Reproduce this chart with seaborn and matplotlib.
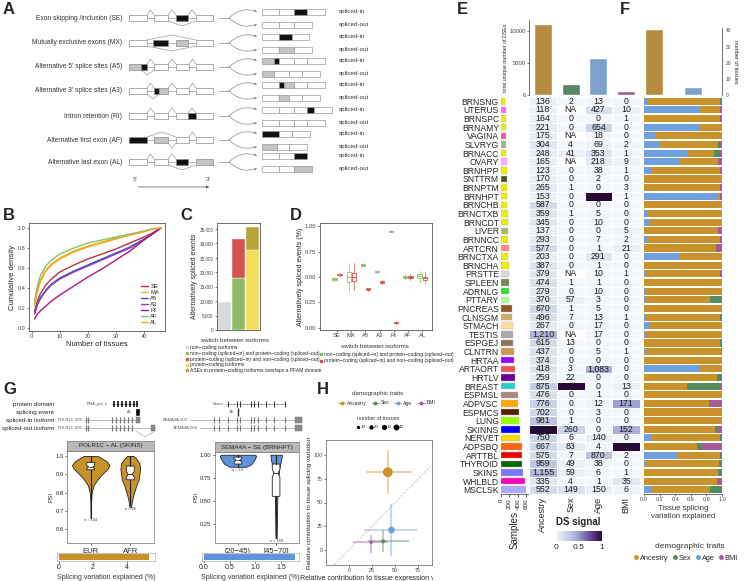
import numpy as np
import pandas as pd
import matplotlib
matplotlib.use('Agg')
import matplotlib.pyplot as plt
import seaborn as sns
from matplotlib.patches import Rectangle
from matplotlib.colors import LinearSegmentedColormap
from matplotlib.lines import Line2D
from matplotlib.transforms import Bbox, TransformedBbox

# ---------------- data ----------------
# panel A: splicing event schematics (pixel layout of the panel)
events = ['Exon skipping /inclusion (SE)', 'Mutually exclusive exons (MX)',
          "Alternative 5' splice sites (A5)", "Alternative 3' splice sites (A3)",
          'Intron retention (RI)', 'Alternative first exon (AF)', 'Alternative last exon (AL)']
event_y = [18, 43, 67, 91, 116, 140, 162]
pre_exons = [
    [(129, 147, 'w'), (154, 168, 'w'), (176, 188, 'k'), (196, 213, 'w')],
    [(129, 147, 'w'), (153, 168, 'k'), (176, 188, 'g'), (196, 213, 'w')],
    [(129, 141, 'g'), (141, 147, 'k'), (154, 168, 'w'), (176, 189, 'w'), (196, 213, 'w')],
    [(129, 147, 'w'), (154, 159, 'k'), (159, 168, 'g'), (176, 189, 'w'), (196, 213, 'w')],
    [(129, 147, 'w'), (154, 168, 'w'), (176, 188, 'w'), (188, 196, 'k'), (196, 213, 'w')],
    [(129, 147, 'k'), (154, 168, 'g'), (176, 189, 'w'), (196, 213, 'w')],
    [(129, 147, 'w'), (154, 168, 'w'), (176, 188, 'k'), (196, 213, 'g')],
]
up_links = [[(147, 154), (168, 176), (188, 196)], [(147, 196)],
            [(147, 154), (168, 176), (189, 196)], [(147, 154), (168, 176), (189, 196)],
            [(147, 154), (168, 176), (188, 196)], [(147, 176), (189, 196)],
            [(147, 154), (168, 176)]]
down_links = [[(168, 196)], [(147, 196)], [(141, 154)], [(147, 159)], [], [(168, 176)], [(168, 196)]]
tx_in = [([17, 15, 13, 18], 'wwkw'), ([17, 13, 17], 'wkw'), ([12, 5, 15, 13, 18], 'gkwww'),
         ([17, 5, 10, 13, 18], 'wkgww'), ([17, 15, 13, 7, 18], 'wwwkw'), ([17, 13, 18], 'kww'),
         ([17, 15, 13], 'wwk')]
tx_out = [([17, 15, 18], 'www'), ([17, 15, 18], 'wgw'), ([12, 15, 13, 18], 'gwww'),
          ([17, 10, 13, 18], 'wgww'), ([17, 15, 13, 18], 'wwww'), ([15, 12, 18], 'gww'),
          ([17, 15, 18], 'wwg')]

# panel B: cumulative density of events vs number of tissues
n_tissues = [1, 2, 3, 5, 7, 10, 15, 20, 25, 30, 35, 40, 43, 46]
cum_SE = [0.17, 0.27, 0.34, 0.43, 0.49, 0.56, 0.63, 0.69, 0.74, 0.79, 0.85, 0.91, 0.95, 1.0]
cum_MX = [0.24, 0.38, 0.48, 0.58, 0.64, 0.70, 0.77, 0.82, 0.86, 0.90, 0.93, 0.97, 0.99, 1.0]
cum_A5 = [0.15, 0.24, 0.30, 0.38, 0.44, 0.50, 0.57, 0.63, 0.69, 0.75, 0.81, 0.89, 0.94, 1.0]
cum_A3 = [0.14, 0.23, 0.29, 0.37, 0.43, 0.49, 0.56, 0.62, 0.68, 0.74, 0.80, 0.88, 0.94, 1.0]
cum_RI = [0.09, 0.14, 0.17, 0.22, 0.27, 0.33, 0.42, 0.51, 0.59, 0.68, 0.77, 0.88, 0.94, 1.0]
cum_AF = [0.27, 0.42, 0.52, 0.62, 0.68, 0.74, 0.80, 0.85, 0.88, 0.91, 0.94, 0.97, 0.99, 1.0]
cum_AL = [0.22, 0.36, 0.46, 0.57, 0.63, 0.69, 0.76, 0.81, 0.85, 0.89, 0.93, 0.96, 0.99, 1.0]
event_codes = ['SE', 'MX', 'A5', 'A3', 'RI', 'AF', 'AL']
event_colors = ['#b8323a', '#e8b90c', '#3c4fb5', '#8a3fc4', '#b3177f', '#88c06a', '#f0a52e']

# panel C: stacked bars
c_bottom = [9800, 18000, 27800]
c_top = [0, 13500, 7900]
c_bottom_col = ['#d9d9d9', '#8fbd67', '#f1dc5c']
c_top_col = ['#d9d9d9', '#d6524e', '#b7a43b']
c_labels = ['non\u2212coding isoforms',
            'non\u2212coding (spliced\u2212in) and protein\u2212coding (spliced\u2212out)',
            'protein\u2212coding (spliced\u2212in) and non\u2212coding (spliced\u2212out)',
            'protein\u2212coding isoforms',
            'ASEs in protein\u2212coding isoforms overlaps a PFAM domain']
c_leg_col = ['#d9d9d9', '#8fbd67', '#d6524e', '#f1dc5c', '#b7a43b']

# panel D: box summaries (median, q1, q3, low, high) per event
d_green = [(0.48, 0.475, 0.486, 0.46, 0.50), (0.50, 0.45, 0.55, 0.35, 0.64),
           (0.62, 0.612, 0.626, 0.60, 0.635), (0.55, 0.545, 0.558, 0.53, 0.57),
           (0.95, 0.946, 0.955, 0.94, 0.96), (0.50, 0.49, 0.51, 0.47, 0.53),
           (0.51, 0.495, 0.525, 0.45, 0.56)]
d_red = [(0.52, 0.515, 0.526, 0.51, 0.535), (0.50, 0.46, 0.54, 0.37, 0.64),
         (0.38, 0.374, 0.388, 0.365, 0.395), (0.45, 0.442, 0.456, 0.43, 0.47),
         (0.05, 0.045, 0.056, 0.035, 0.065), (0.50, 0.49, 0.51, 0.47, 0.53),
         (0.49, 0.475, 0.505, 0.44, 0.55)]

# panel E / F
tissues = ['BRNSNG', 'UTERUS', 'BRNSPC', 'BRNAMY', 'VAGINA', 'SLVRYG', 'BRNACC', 'OVARY',
           'BRNHPP', 'SNTTRM', 'BRNPTM', 'BRNHPT', 'BRNCHB', 'BRNCTXB', 'BRNCDT', 'LIVER',
           'BRNNCC', 'ARTCRN', 'BRNCTXA', 'BRNCHA', 'PRSTTE', 'SPLEEN', 'ADRNLG', 'PTTARY',
           'PNCREAS', 'CLNSGM', 'STMACH', 'TESTIS', 'ESPGEJ', 'CLNTRN', 'HRTAA', 'ARTAORT',
           'HRTLV', 'BREAST', 'ESPMSL', 'ADPVSC', 'ESPMCS', 'LUNG', 'SKINNS', 'NERVET',
           'ADPSBQ', 'ARTTBL', 'THYROID', 'SKINS', 'WHLBLD', 'MSCLSK']
tissue_colors = ['#eeee00', '#ff66ff', '#eeee00', '#eeee00', '#ff5599', '#99bb88', '#eeee00', '#ffaaff',
                 '#eeee00', '#555522', '#eeee00', '#eeee00', '#eeee00', '#eeee00', '#eeee00', '#aabb66',
                 '#eeee00', '#ff8877', '#eeee00', '#eeee00', '#d9d9d9', '#778855', '#33dd33', '#aaff99',
                 '#995522', '#cdaa66', '#ffdd99', '#aaaaaa', '#8b7355', '#cc9955', '#9900ff', '#ee5555',
                 '#660099', '#33cccc', '#aa8877', '#ffaa00', '#552200', '#99ff00', '#0000ff', '#ffd700',
                 '#ff6600', '#ee0000', '#006600', '#7777ff', '#ff00bb', '#aaaaff']
samples = [100, 110, 108, 110, 120, 122, 125, 142, 140, 148, 145, 145, 149, 174, 165, 177,
           172, 181, 174, 178, 188, 193, 198, 201, 259, 270, 275, 274, 280, 313, 316, 329,
           328, 337, 395, 399, 422, 438, 439, 452, 494, 496, 488, 514, 570, 600]
dse_ancestry = [136, 118, 164, 221, 175, 304, 248, 165, 123, 170, 265, 153, 587, 359, 345, 137,
                293, 577, 203, 387, 379, 474, 279, 370, 670, 496, 267, 1210, 615, 437, 374, 418,
                259, 875, 476, 776, 702, 981, 3167, 750, 667, 575, 959, 1155, 335, 552]
dse_sex = [2, np.nan, 0, 0, np.nan, 4, 41, np.nan, 0, 0, 1, 0, 0, 1, 0, 0,
           0, 0, 0, 0, np.nan, 1, 0, 57, 1, 7, 0, np.nan, 13, 0, 0, 3,
           22, 1124, 0, 0, 0, 1, 260, 6, 83, 7, 49, 59, 4, 149]
dse_age = [13, 427, 0, 654, 18, 69, 353, 218, 38, 2, 0, 2730, 0, 5, 10, 0,
           7, 1, 291, 1, 10, 1, 10, 3, 5, 13, 17, 17, 0, 5, 0, 1083,
           0, 0, 1, 12, 3, 0, 0, 140, 4, 870, 38, 6, 1, 150]
dse_bmi = [0, 10, 1, 0, 0, 2, 1, 9, 1, 0, 3, 1, 0, 0, 0, 5,
           2, 21, 0, 0, 1, 0, 0, 0, 0, 1, 0, 0, 0, 1, 0, 0,
           0, 13, 0, 171, 0, 0, 152, 0, 364, 2, 0, 1, 35, 6]
traits = ['Ancestry', 'Sex', 'Age', 'BMI']
trait_colors = {'Ancestry': '#c9922a', 'Sex': '#4f8f5f', 'Age': '#6fa0dc', 'BMI': '#a65a98'}
total_dse = [11100, 1800, 5900, 700]
n_tissue_trait = [41, 0, 5, 0]

# panel F: fraction of splicing variation explained, per tissue
f_age = [0.05, 0.70, 0.00, 0.72, 0.15, 0.20, 0.55, 0.45, 0.10, 0.00, 0.00, 0.95, 0.00, 0.05, 0.08, 0.00,
         0.05, 0.00, 0.45, 0.00, 0.03, 0.00, 0.03, 0.02, 0.00, 0.03, 0.06, 0.02, 0.00, 0.01, 0.00, 0.72,
         0.00, 0.00, 0.00, 0.00, 0.00, 0.00, 0.00, 0.10, 0.00, 0.44, 0.02, 0.00, 0.00, 0.10]
f_anc = [0.93, 0.28, 0.98, 0.28, 0.85, 0.75, 0.35, 0.50, 0.88, 1.00, 0.97, 0.03, 1.00, 0.95, 0.92, 0.95,
         0.93, 0.92, 0.55, 1.00, 0.95, 1.00, 0.97, 0.83, 1.00, 0.95, 0.94, 0.98, 0.98, 0.98, 1.00, 0.28,
         0.93, 0.55, 1.00, 0.83, 1.00, 1.00, 0.91, 0.88, 0.68, 0.54, 0.94, 0.95, 0.93, 0.74]
f_sex = [0.02, 0.00, 0.00, 0.00, 0.00, 0.03, 0.08, 0.00, 0.00, 0.00, 0.00, 0.00, 0.00, 0.00, 0.00, 0.00,
         0.00, 0.00, 0.00, 0.00, 0.00, 0.00, 0.00, 0.15, 0.00, 0.01, 0.00, 0.00, 0.02, 0.00, 0.00, 0.00,
         0.07, 0.43, 0.00, 0.00, 0.00, 0.00, 0.04, 0.02, 0.06, 0.02, 0.04, 0.05, 0.00, 0.15]
f_bmi = [0.00, 0.02, 0.02, 0.00, 0.00, 0.02, 0.02, 0.05, 0.02, 0.00, 0.03, 0.02, 0.00, 0.00, 0.00, 0.05,
         0.02, 0.08, 0.00, 0.00, 0.02, 0.00, 0.00, 0.00, 0.00, 0.01, 0.00, 0.00, 0.00, 0.01, 0.00, 0.00,
         0.00, 0.02, 0.00, 0.17, 0.00, 0.00, 0.05, 0.00, 0.26, 0.00, 0.00, 0.00, 0.07, 0.01]

# panel G: violin outlines (psi, relative density)
eur_psi = [0.66, 0.75, 0.80, 0.84, 0.87, 0.90, 0.93, 0.95, 0.97, 0.99, 1.0]
eur_dens = [0.01, 0.02, 0.05, 0.15, 0.35, 0.60, 0.90, 1.00, 0.85, 0.55, 0.35]
afr_psi = [0.72, 0.76, 0.80, 0.84, 0.87, 0.90, 0.93, 0.96, 0.99, 1.0]
afr_dens = [0.05, 0.12, 0.25, 0.40, 0.55, 0.60, 0.65, 0.60, 0.35, 0.20]
young_psi = [0.87, 0.90, 0.93, 0.96, 0.99, 1.0]
young_dens = [0.45, 0.75, 0.85, 0.95, 1.00, 0.90]
old_psi = [0.10, 0.30, 0.50, 0.70, 0.85, 0.95, 1.0]
old_dens = [0.10, 0.15, 0.20, 0.30, 0.55, 0.90, 1.00]
polr_box = [(0.94, 0.925, 0.965, 0.67, 1.0, 0.932, 0.948), (0.90, 0.87, 0.945, 0.73, 1.0, 0.885, 0.915)]
sema_box = [(0.94, 0.90, 0.975, 0.87, 1.0, 0.92, 0.955), (0.80, 0.55, 0.90, 0.10, 1.0, 0.76, 0.84)]
polr_expl, sema_expl = 5.3, 1.77

# panel H: relative contributions (x expr, y splicing) with ranges
h_traits = ['Ancestry', 'Sex', 'Age', 'BMI']
h_x = [42, 37, 46, 24]
h_y = [82, 9, 21, 8]
h_xlo = [18, 21, 16, 4]
h_xhi = [68, 65, 74, 42]
h_ylo = [59, -2, -6, -3]
h_yhi = [105, 21, 48, 16]
h_ntis = [41, 8, 20, 6]

# ---------------- figure ----------------
sns.set_style('ticks')
plt.rcParams['font.family'] = ['Liberation Sans', 'DejaVu Sans']
plt.rcParams['axes.edgecolor'] = '#555555'
plt.rcParams['axes.linewidth'] = 0.6

W, H = 748, 581
fig = plt.figure(figsize=(W / 100, H / 100), dpi=100)


def px_axes(x0, y0, x1, y1):
    return fig.add_axes([x0 / W, 1 - y1 / H, (x1 - x0) / W, (y1 - y0) / H])


def panel_label(x, y, s):
    fig.text(x / W, 1 - y / H, s, fontsize=12, fontweight='bold', va='center', ha='left')


def small_ticks(ax, size=4):
    ax.tick_params(labelsize=size, length=1.5, width=0.5, pad=1, colors='#444444')


fillc = {'w': 'white', 'k': '#111111', 'g': '#c4c4c4'}

# ---- A
axA = px_axes(0, 0, 430, 200)
axA.set_xlim(0, 430)
axA.set_ylim(200, 0)
axA.axis('off')
for i, ev in enumerate(events):
    y = event_y[i]
    axA.text(122, y, ev, ha='right', va='center', fontsize=4.8, color='#333333')
    axA.plot([129, 213], [y, y], color='#9a9a9a', lw=0.5, zorder=1)
    for xa, xb in up_links[i]:
        axA.plot([xa, (xa + xb) / 2, xb], [y - 3, y - 8, y - 3], color='#9a9a9a', lw=0.5)
    for xa, xb in down_links[i]:
        axA.plot([xa, (xa + xb) / 2, xb], [y + 3, y + 8, y + 3], color='#9a9a9a', lw=0.5)
    for x0, x1, c in pre_exons[i]:
        axA.add_patch(Rectangle((x0, y - 3), x1 - x0, 6, fc=fillc[c], ec='#8c8c8c', lw=0.5, zorder=2))
    axA.plot([219, 229], [y, y], color='#888888', lw=0.5)
    for dy, tr, lab in [(-6.5, tx_in[i], 'spliced-in'), (6.5, tx_out[i], 'spliced-out')]:
        axA.annotate('', xy=(257, y + dy), xytext=(229, y),
                     arrowprops=dict(arrowstyle='-|>', color='#888888', lw=0.5, mutation_scale=3,
                                     shrinkA=0, shrinkB=0,
                                     connectionstyle='arc3,rad=%.2f' % (0.3 if dy > 0 else -0.3)))
        x = 262
        for w, c in zip(tr[0], tr[1]):
            axA.add_patch(Rectangle((x, y + dy - 3), w, 6, fc=fillc[c], ec='#9a9a9a', lw=0.5))
            x += w
        axA.text(339, y + dy, lab, fontsize=4.5, va='center', color='#333333')
axA.annotate('', xy=(212, 187), xytext=(135, 187),
             arrowprops=dict(arrowstyle='-|>', color='#555555', lw=0.5, mutation_scale=4))
axA.text(133, 181, "5'", fontsize=4.5, color='#444444')
axA.text(206, 181, "3'", fontsize=4.5, color='#444444')
panel_label(3, 9, 'A')

# ---- B
axB = px_axes(29, 223, 165, 331)
cum_df = pd.DataFrame({
    'n': n_tissues * 7,
    'cum': cum_SE + cum_MX + cum_A5 + cum_A3 + cum_RI + cum_AF + cum_AL,
    'event': [e for e in event_codes for _ in n_tissues]})
sns.lineplot(data=cum_df, x='n', y='cum', hue='event', palette=dict(zip(event_codes, event_colors)),
             lw=1, ax=axB)
axB.set_xlim(-1, 47.5)
axB.set_ylim(-0.03, 1.05)
axB.set_xticks([0, 10, 20, 30, 40])
axB.set_yticks([0, 0.2, 0.4, 0.6, 0.8, 1.0])
axB.set_xlabel('Number of tissues', fontsize=5.5, labelpad=1)
axB.set_ylabel('Cumulative density', fontsize=5.5, labelpad=1)
small_ticks(axB)
axB.legend(loc='lower right', frameon=False, fontsize=4.2, handlelength=1.2, labelspacing=0.15,
           borderaxespad=0.6, handletextpad=0.5)
panel_label(3, 215, 'B')

# ---- C
axC = px_axes(217, 223, 260, 330)
xs = [0, 1, 2]
axC.bar(xs, c_bottom, width=0.92, color=c_bottom_col, edgecolor='white', lw=0.3)
axC.bar(xs, c_top, bottom=c_bottom, width=0.92, color=c_top_col, edgecolor='white', lw=0.3)
axC.set_xlim(-0.55, 2.55)
axC.set_ylim(0, 37100)
axC.set_yticks(range(0, 35001, 5000))
axC.set_yticklabels(['{:,}'.format(v) for v in range(0, 35001, 5000)])
axC.set_xticks([])
axC.set_ylabel('Alternatively spliced events', fontsize=5, labelpad=1)
small_ticks(axC, 3.3)
fig.text(235 / W, 1 - 340 / H, 'switch between isoforms', fontsize=4.5, ha='center', va='center',
         color='#333333')
c_handles = [Line2D([], [], ls='', marker='s', ms=1.8, color=c) for c in c_leg_col]
fig.legend(c_handles, c_labels, loc='upper left', bbox_to_anchor=(183 / W, 1 - 343 / H), frameon=False,
           fontsize=3.6, handlelength=0.6, handletextpad=0.3, labelspacing=0.15, borderaxespad=0)
panel_label(180, 215, 'C')

# ---- D
axD = px_axes(320, 223, 432, 330)


def box_stats(vals):
    return [dict(med=m, q1=a, q3=b, whislo=lo, whishi=hi, fliers=[]) for m, a, b, lo, hi in vals]


for vals, off, col in [(d_green, -0.18, '#8fbd67'), (d_red, 0.18, '#d6524e')]:
    axD.bxp(box_stats(vals), positions=np.arange(7) + off, widths=0.3, showfliers=False,
            patch_artist=True,
            boxprops=dict(facecolor='white', edgecolor=col, lw=0.6),
            medianprops=dict(color=col, lw=0.8), whiskerprops=dict(color=col, lw=0.5),
            capprops=dict(color=col, lw=0), manage_ticks=False)
axD.set_xlim(-1.2, 6.7)
axD.set_ylim(-0.02, 1.03)
axD.set_xticks(range(7))
axD.set_xticklabels(event_codes)
axD.set_yticks([0, 0.25, 0.5, 0.75, 1.0])
axD.set_yticklabels(['0.00', '0.25', '0.50', '0.75', '1.00'])
axD.set_ylabel('Alternatively spliced events (%)', fontsize=5, labelpad=1)
small_ticks(axD, 4.2)
fig.text(375 / W, 1 - 346 / H, 'switch between isoforms', fontsize=4.5, ha='center', va='center',
         color='#333333')
d_handles = [Line2D([], [], ls='', marker='s', ms=1.8, color=c) for c in ['#8fbd67', '#d6524e']]
fig.legend(d_handles, c_labels[1:3], loc='upper left', bbox_to_anchor=(317 / W, 1 - 350 / H),
           frameon=False, fontsize=3.6, handlelength=0.6, handletextpad=0.3, labelspacing=0.25,
           borderaxespad=0)
panel_label(290, 215, 'D')

# ---- E
nrow = len(tissues)
dse = pd.DataFrame({'Ancestry': dse_ancestry, 'Sex': dse_sex, 'Age': dse_age, 'BMI': dse_bmi},
                   index=tissues)
ds_signal = dse / dse.max()
annot = dse.apply(lambda col: col.map(lambda v: '' if pd.isna(v) else '{:,}'.format(int(v))))
ds_cmap = LinearSegmentedColormap.from_list('ds', ['#f3f6fa', '#c7d2e6', '#9a9ccd', '#64459a', '#2b063d'])

axHm = px_axes(529, 97, 640, 494)
axCb = px_axes(556, 531, 602, 541)
sns.heatmap(ds_signal, ax=axHm, cmap=ds_cmap, vmin=0, vmax=1, annot=annot.values, fmt='',
            annot_kws=dict(fontsize=6.3, color='#1a1a1a'), linewidths=0.6, linecolor='white',
            cbar_ax=axCb, cbar_kws=dict(orientation='horizontal', ticks=[0, 0.5, 1]),
            yticklabels=False)
for r in range(nrow):
    for c, t in enumerate(traits):
        if pd.isna(dse.iloc[r, c]):
            axHm.text(c + 0.5, r + 0.5, 'NA', ha='center', va='center', fontsize=6.3, color='#1a1a1a')
axHm.set_xticklabels(traits, rotation=90, fontsize=6.5)
axHm.tick_params(axis='x', length=0, pad=2)
axHm.set_xlabel('')
axCb.tick_params(labelsize=6, length=0, pad=2)
axCb.set_xticklabels(['0', '0.5', '1'])
for s in axCb.spines.values():
    s.set_visible(False)
fig.text(556 / W, 1 - 522 / H, 'DS signal', fontsize=7, fontweight='bold', va='center')

axS = px_axes(501, 97, 528, 494)
axS.barh(np.arange(nrow) + 0.5, samples, height=0.75, color=tissue_colors, edgecolor='#bbbbbb', lw=0.3)
axS.set_ylim(nrow, 0)
axS.set_xlim(0, 640)
axS.set_yticks(np.arange(nrow) + 0.5)
axS.set_yticklabels(tissues, fontsize=6.2)
axS.tick_params(axis='y', length=0, pad=1.5)
axS.set_xticks([0, 200, 400, 600])
axS.tick_params(axis='x', labelsize=4.5, rotation=90, length=2, width=0.5, pad=1)
axS.set_xlabel('Samples', fontsize=7, rotation=90, labelpad=2)
sns.despine(ax=axS, left=True)

axEt = px_axes(529, 20, 640, 95)
sns.barplot(x=traits, y=total_dse, hue=traits, palette=trait_colors, legend=False, width=0.65, ax=axEt)
axEt.set_xlim(-0.5, 3.5)
axEt.set_ylim(0, 11800)
axEt.set_yticks([0, 5000, 10000])
axEt.set_xticks([])
axEt.set_ylabel('total unique number of DSEs', fontsize=3.8, labelpad=1)
small_ticks(axEt, 4.2)
sns.despine(ax=axEt, bottom=True)
panel_label(457, 10, 'E')

# ---- F
axFt = px_axes(644, 28, 722, 95)
sns.barplot(x=traits, y=n_tissue_trait, hue=traits, palette=trait_colors, legend=False, width=0.9, ax=axFt)
axFt.set_xlim(-0.5, 3.5)
axFt.set_ylim(0, 41.5)
axFt.set_yticks([0, 10, 20, 30, 40])
axFt.set_xticks([])
axFt.yaxis.tick_right()
axFt.yaxis.set_label_position('right')
axFt.set_ylabel('number of tissues', fontsize=4, rotation=270, labelpad=5)
small_ticks(axFt, 3.5)
sns.despine(ax=axFt, left=True, bottom=True, right=False)

axF = px_axes(644, 97, 722, 494)
left = np.zeros(nrow)
for t, frac in [('Age', f_age), ('Ancestry', f_anc), ('Sex', f_sex), ('BMI', f_bmi)]:
    axF.barh(np.arange(nrow) + 0.5, frac, left=left, height=0.82, color=trait_colors[t], lw=0)
    left = left + np.array(frac)
axF.set_ylim(nrow, 0)
axF.set_xlim(0, 1.0)
axF.set_yticks([])
axF.set_xticks([0, 0.2, 0.4, 0.6, 0.8, 1.0])
axF.set_xticklabels(['0.0', '0.2', '0.4', '0.6', '0.8', '1.0'])
small_ticks(axF, 4)
axF.set_xlabel('Tissue splicing\nvariation explained', fontsize=5.5, labelpad=2, color='#333333')
sns.despine(ax=axF, left=True)
fig.text(690 / W, 1 - 546 / H, 'demographic traits', fontsize=6, ha='center', va='center', color='#333333')
f_handles = [Line2D([], [], ls='', marker='o', ms=2.5, color=trait_colors[t]) for t in traits]
fig.legend(f_handles, traits, loc='center', bbox_to_anchor=(686 / W, 1 - 558 / H), ncol=4, frameon=False,
           fontsize=5.3, handlelength=0.6, handletextpad=0.2, columnspacing=0.6, borderaxespad=0)
panel_label(620, 10, 'F')

# ---- G gene tracks
axGt = px_axes(0, 396, 320, 440)
axGt.set_xlim(0, 320)
axGt.set_ylim(440, 396)
axGt.axis('off')
for txt, yy in [('protein domain', 404), ('splicing event', 412), ('spliced-in isoform', 420),
                ('spliced-out isoform', 428)]:
    axGt.text(54, yy, txt, ha='right', va='center', fontsize=4.5, color='#222222')
polr_domain = [114, 118, 122, 126, 130, 134, 137]
polr_exons = [86, 88, 112, 116, 120, 124, 128, 132]
sema_domain = [228, 237, 240, 251, 254, 258, 266, 274, 285]
sema_exons = [214, 219, 228, 237, 240, 251, 254, 258, 266, 274, 285]
axGt.plot([112, 138], [404, 404], color='#555555', lw=0.4)
axGt.vlines(polr_domain, 401, 407, color='black', lw=1.1)
axGt.text(108, 404, 'RNA_pol_L', ha='right', va='center', fontsize=3, color='#555555')
axGt.text(132, 412, 'AL', ha='right', va='center', fontsize=3, color='#555555')
axGt.add_patch(Rectangle((135, 408), 5, 8, fc='black'))
for yy, end, lab in [(420, 140, 'POLR1C-008'), (428, 155, 'POLR1C-006')]:
    axGt.plot([84, end], [yy, yy], color='#888888', lw=0.4)
    axGt.vlines(polr_exons, yy - 3, yy + 3, color='#777777', lw=0.9)
    axGt.add_patch(Rectangle((end - 4, yy - 3), 4, 6, fc='#8a8a8a', ec='#666666', lw=0.3))
    axGt.text(82, yy, lab, ha='right', va='center', fontsize=3, color='#555555')
axGt.plot([136, 145, 155], [431, 437, 431], color='#999999', lw=0.4)
axGt.plot([226, 286], [404, 404], color='#555555', lw=0.4)
axGt.vlines(sema_domain, 401, 407, color='#333333', lw=0.7)
axGt.text(223, 404, 'Sema', ha='right', va='center', fontsize=3, color='#555555')
axGt.text(234, 412, 'SE', ha='right', va='center', fontsize=3, color='#555555')
axGt.vlines([237.5], 408, 416, color='#333333', lw=1)
for yy, start, lab in [(420, 190, 'SEMA4A-002'), (428, 200, 'SEMA4A-004')]:
    axGt.plot([start, 302], [yy, yy], color='#888888', lw=0.4)
    axGt.vlines(sema_exons, yy - 3, yy + 3, color='#777777', lw=0.8)
    axGt.add_patch(Rectangle((295, yy - 3), 7, 6, fc='#8a8a8a', ec='#666666', lw=0.3))
    axGt.text(start - 2, yy, lab, ha='right', va='center', fontsize=3, color='#555555')
panel_label(3, 389, 'G')


def violin_panel(box, hdr, psis, dens, widths, boxes, color, labels, ylim, yticks, ns):
    ax = px_axes(*box)
    stats = [dict(coords=np.array(p), vals=np.array(d), mean=np.median(p), median=np.median(p),
                  min=min(p), max=max(p)) for p, d in zip(psis, dens)]
    parts = ax.violin(stats, positions=[0, 1], widths=widths, showextrema=False)
    for b in parts['bodies']:
        b.set_facecolor(color)
        b.set_edgecolor('#222222')
        b.set_linewidth(0.6)
        b.set_alpha(1)
    bstats = [dict(med=m, q1=a, q3=b, whislo=lo, whishi=hi, cilo=cl, cihi=ch, fliers=[])
              for m, a, b, lo, hi, cl, ch in boxes]
    ax.bxp(bstats, positions=[0, 1], widths=0.2, shownotches=True, showfliers=False, patch_artist=True,
           boxprops=dict(facecolor='white', edgecolor='#222222', lw=0.6),
           medianprops=dict(color='#222222', lw=0.6), whiskerprops=dict(color='#222222', lw=0.8),
           capprops=dict(lw=0), manage_ticks=False)
    for i, n in enumerate(ns):
        ax.text(i, boxes[i][3] - 0.015 * (ylim[1] - ylim[0]), n, fontsize=2.8, ha='center',
                va='top', color='#444444')
    ax.set_xlim(-0.6, 1.6)
    ax.set_ylim(*ylim)
    ax.set_yticks(yticks)
    ax.set_yticklabels(['%.2f' % v if ylim[0] < 0.3 else '%.1f' % v for v in yticks])
    ax.set_xticks([0, 1])
    ax.set_xticklabels(labels)
    ax.set_ylabel('PSI', fontsize=4.5, labelpad=1)
    ax.tick_params(axis='y', labelsize=4.2, length=1.5, width=0.5, pad=1)
    ax.tick_params(axis='x', labelsize=5.5, length=1.5, width=0.5, pad=2)
    for s in ax.spines.values():
        s.set_color('#888888')
    hx = px_axes(box[0], box[1] - 10, box[2], box[1])
    hx.set_facecolor('#b9b9b9')
    hx.set_xticks([])
    hx.set_yticks([])
    for s in hx.spines.values():
        s.set_color('#888888')
    hx.text(0.5, 0.5, hdr, ha='center', va='center', fontsize=4.5, color='#222222', transform=hx.transAxes)
    return ax


violin_panel((67, 451, 154, 543), 'POLR1C \u2212 AL (SKINS)', [eur_psi, afr_psi], [eur_dens, afr_dens],
             [0.95, 0.5], polr_box, '#c8922a', ['EUR', 'AFR'], (0.525, 1.027),
             [0.6, 0.7, 0.8, 0.9, 1.0], ['n = 504', 'n = 96'])
violin_panel((215, 452, 299, 543), 'SEMA4A \u2212 SE (BRNHPT)', [young_psi, old_psi], [young_dens, old_dens],
             [0.95, 0.3], sema_box, '#5f93dc', ['[20\u221245)', '[45\u221270]'], (0.045, 1.03),
             [0.25, 0.5, 0.75, 1.0], ['n = 10', 'n = 159'])


def expl_bar(box, val, xmax, ticks, ticklabels, color):
    ax = px_axes(*box)
    ax.barh([0], [val], height=0.8, color=color, lw=0)
    ax.set_xlim(-0.02 * xmax, xmax)
    ax.set_ylim(-0.6, 0.6)
    ax.set_yticks([])
    ax.set_xticks(ticks)
    ax.set_xticklabels(ticklabels)
    ax.tick_params(axis='x', labelsize=5, length=1.5, width=0.5, pad=1)
    for s in ax.spines.values():
        s.set_color('#bbbbbb')
    ax.set_xlabel('Splicing variation explained (%)', fontsize=5, labelpad=2, color='#333333')


expl_bar((57, 553, 155, 561), polr_expl, 5.65, [0, 2, 4], ['0', '2', '4'], '#c8922a')
expl_bar((202, 553, 299, 561), sema_expl, 1.85, [0.0, 0.5, 1.0, 1.5], ['0.0', '0.5', '1.0', '1.5'],
         '#5f93dc')

# ---- H
axH = px_axes(326, 440, 432, 565)
axH.plot([-30, 120], [-30, 120], ls='--', color='#bbbbbb', lw=0.5, zorder=0)
for i, t in enumerate(h_traits):
    axH.errorbar(h_x[i], h_y[i], xerr=[[h_x[i] - h_xlo[i]], [h_xhi[i] - h_x[i]]],
                 yerr=[[h_y[i] - h_ylo[i]], [h_yhi[i] - h_y[i]]], fmt='none',
                 ecolor=trait_colors[t], alpha=0.45, elinewidth=1.3, capsize=0)
h_df = pd.DataFrame({'x': h_x, 'y': h_y, 'trait': h_traits, 'n': h_ntis})
sns.scatterplot(data=h_df, x='x', y='y', hue='trait', palette=trait_colors, size='n', sizes=(6, 50),
                size_norm=(6, 41), legend=False, edgecolor='none', ax=axH, zorder=3)
axH.set_xlim(-25, 90)
axH.set_ylim(-16, 116)
axH.set_xticks([0, 25, 50, 75])
axH.set_yticks([0, 25, 50, 75, 100])
small_ticks(axH, 3.8)
axH.set_ylabel('Relative contribution to tissue splicing variation', fontsize=4.6, labelpad=1)
axH.set_xlabel('Relative contribution to tissue expression variation', fontsize=5, labelpad=1)
axH.xaxis.label.set_clip_box(TransformedBbox(Bbox([[0, 0], [433 / W, 1]]), fig.transFigure))
axH.xaxis.label.set_clip_on(True)
for s in axH.spines.values():
    s.set_color('#777777')
fig.text(378 / W, 1 - 393 / H, 'demographic traits', fontsize=4.5, ha='center', va='center', color='#333333')
h_handles = [Line2D([], [], color=trait_colors[t], marker='o', ms=1.8, lw=0.6) for t in traits]
fig.legend(h_handles, traits, loc='center left', bbox_to_anchor=(336 / W, 1 - 403 / H), ncol=4,
           frameon=False, fontsize=3.6, handlelength=1.4, handletextpad=0.4, columnspacing=1.0,
           borderaxespad=0)
fig.text(378 / W, 1 - 418 / H, 'number of tissues', fontsize=3.8, ha='center', va='center', color='#333333')
s_handles = [Line2D([], [], ls='', marker='o', color='black', ms=ms) for ms in [1.4, 2.1, 2.7, 3.2]]
fig.legend(s_handles, ['10', '20', '30', '40'], loc='center left', bbox_to_anchor=(355 / W, 1 - 427 / H),
           ncol=4, frameon=False, fontsize=3.2, handlelength=0.6, handletextpad=0.3, columnspacing=0.9,
           borderaxespad=0)
panel_label(317, 389, 'H')

fig.savefig('out.png', dpi=100)
